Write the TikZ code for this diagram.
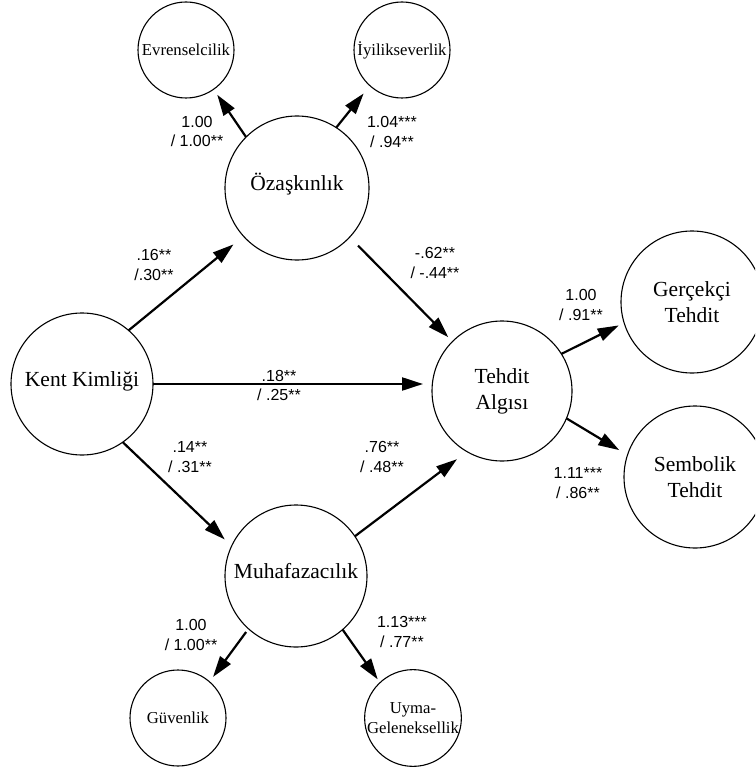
\documentclass[tikz,border=0pt]{standalone}
\usepackage{fontspec}
\setmainfont{Liberation Serif}
\newfontfamily\lblfont{Liberation Sans}
\usetikzlibrary{arrows.meta}
\begin{document}
\begin{tikzpicture}[x=1pt,y=-1pt,
  circ/.style={circle,draw,line width=1.1pt,inner sep=0pt,outer sep=0pt,align=center},
  bigc/.style={circ,minimum size=142pt,font=\fontsize{21.5}{26}\selectfont},
  bigone/.style={bigc,text height=10pt,text depth=6pt},
  smallc/.style={circ,minimum size=96pt,font=\fontsize{16.7}{20}\selectfont},
  lbl/.style={align=center,inner sep=0pt,font=\lblfont\fontsize{16}{19.5}\selectfont},
  arr/.style={line width=2.2pt,-{Triangle[length=21pt,width=13pt]}},
]
\fill[white] (0,0) rectangle (755,770);
\useasboundingbox (0,0) rectangle (755,770);
\clip (0,0) rectangle (755,770);
% nodes
\node[smallc] (ev) at (186,50) {Evrenselcilik};
\node[smallc] (iy) at (402,50) {İyilikseverlik};
\node[bigone,minimum size=144pt] (oz) at (297,188) {Özaşkınlık};
\node[bigone] (kk) at (82,384) {Kent Kimliği};
\node[bigc,minimum size=140pt] (ta) at (502,391) {Tehdit\\Algısı};
\node[bigc] (gt) at (692,302) {Gerçekçi\\Tehdit};
\node[bigc] (st) at (695,477) {Sembolik\\Tehdit};
\node[bigone] (mu) at (296,576) {Muhafazacılık};
\node[smallc] (gu) at (178,718) {Güvenlik};
\node[smallc] (uy) at (413,718) {Uyma-\\Geleneksellik};
% connectors
\draw[arr,shorten >=6.6pt] (oz.135.5) -- (ev.-55.4);
\draw[arr,shorten >=10pt] (oz.57.4) -- (iy.-132.2);
\draw[arr,shorten >=13pt] (kk.49.6) -- (oz.-138.8);
\draw[arr,shorten >=9pt] (kk.east) -- (kk.east -| ta.west);
\draw[arr,shorten >=9.5pt] (kk.-55.9) -- (mu.155);
\draw[arr,shorten <=12pt,shorten >=6pt] (oz.-43.6) -- (ta.135);
\draw[arr,shorten >=12.5pt] (mu.34.8) -- (ta.-120.6);
\draw[arr,shorten >=6pt] (ta.32.6) -- (gt.-163.4);
\draw[arr,shorten >=9.6pt] (ta.-23.7) -- (st.162.7);
\draw[arr,shorten <=4pt,shorten >=6pt] (mu.-132.3) -- (gu.49.5);
\draw[arr,shorten >=4pt] (mu.-49.6) -- (uy.133.5);
% labels
\node[lbl] (l1) at (197,131.5) {1.00\\/ 1.00**};
\node[lbl] (l2) at (392,132) {1.04***\\/ .94**};
\node[lbl] (l3) at (154,265) {.16**\\/.30**};
\node[lbl] (l4) at (435,263) {-.62**\\/ -.44**};
\node[lbl] (l5) at (279,385.5) {.18**\\/ .25**};
\node[lbl] (l6) at (190,457) {.14**\\/ .31**};
\node[lbl] (l7) at (382,457) {.76**\\/ .48**};
\node[lbl] (l8) at (581,305) {1.00\\/ .91**};
\node[lbl] (l9) at (578,483) {1.11***\\/ .86**};
\node[lbl] (l10) at (191,635) {1.00\\/ 1.00**};
\node[lbl] (l11) at (402,632) {1.13***\\/ .77**};
\end{tikzpicture}
\end{document}
